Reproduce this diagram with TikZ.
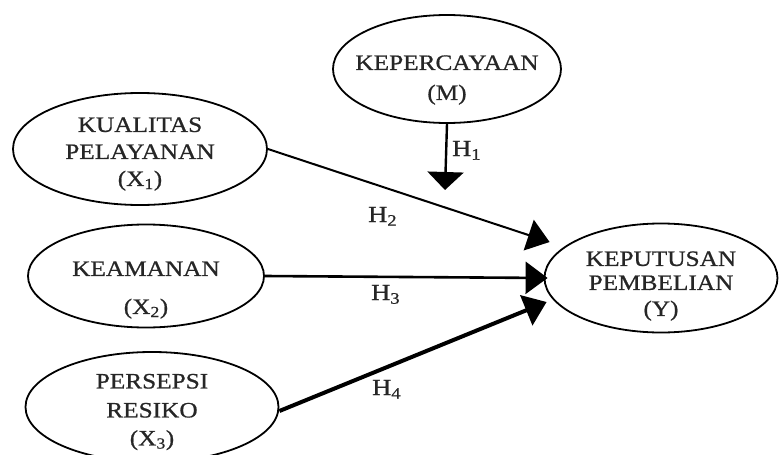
\documentclass[tikz,border=0pt]{standalone}
\usepackage{fontspec}
\setmainfont{Liberation Serif}[FakeStretch=1.15,FakeBold=0.8]
\usetikzlibrary{shapes.geometric,arrows.meta}
\begin{document}
\begin{tikzpicture}[x=1pt,y=-1pt,
  ell/.style={draw=black,line width=1.8pt,ellipse,inner sep=0pt},
  lbl/.style={align=center,inner sep=0pt,text=black!85,font=\fontsize{22}{27}\selectfont},
  hyp/.style={anchor=base west,inner sep=0pt,text=black!85,font=\fontsize{23}{24}\selectfont},
  link/.style={draw=black,line width=2.4pt,-{Triangle[width=32pt,length=22pt]}}
]
\useasboundingbox (0,0) rectangle (780,455);
% ellipses
\node[ell,minimum width=228pt,minimum height=108pt] (m) at (447,69) {};
\node[ell,minimum width=254pt,minimum height=112pt] (x1) at (140,149) {};
\node[ell,minimum width=236pt,minimum height=103pt] (x2) at (146,276) {};
\node[ell,minimum width=253pt,minimum height=110pt] (x3) at (152,407) {};
\node[ell,minimum width=233pt,minimum height=109pt] (y) at (661,278) {};
% texts
\node[lbl] (mt) at (447,80) {KEPERCAYAAN\\[3pt](M)};
\node[lbl] (x1t) at (140,154) {KUALITAS\\PELAYANAN\\(X\textsubscript{1})};
\node[lbl] (x2t) at (146,290) {KEAMANAN\\[11pt](X\textsubscript{2})};
\node[lbl] (x3t) at (152,412) {PERSEPSI\\[2pt]RESIKO\\[1pt](X\textsubscript{3})};
\node[lbl] (yt) at (661,286) {KEPUTUSAN\\[-3pt]PEMBELIAN\\[-1pt](Y)};
% arrow tips
\coordinate (t1) at (445,190);
\coordinate (t2) at ([xshift=6pt,yshift=36pt]y.west);
\coordinate (t3) at ([xshift=4pt]y.west);
\coordinate (t4) at ([xshift=3pt,yshift=-24pt]y.west);
% connectors
\draw[link,line width=2.4pt,-{Triangle[width=36pt,length=18pt]}] (m.south) -- (t1);
\draw[link,line width=2pt] (x1.east) -- (t2);
\draw[link,line width=2.6pt] (x2.east) -- (t3);
\draw[link,line width=4pt] ([yshift=-4pt]x3.east) -- (t4);
% hypothesis labels
\node[hyp] (h1) at (452,156) {H\textsubscript{1}};
\node[hyp] (h2) at (368,222) {H\textsubscript{2}};
\node[hyp] (h3) at (371,300) {H\textsubscript{3}};
\node[hyp] (h4) at (372,395) {H\textsubscript{4}};
\end{tikzpicture}
\end{document}
